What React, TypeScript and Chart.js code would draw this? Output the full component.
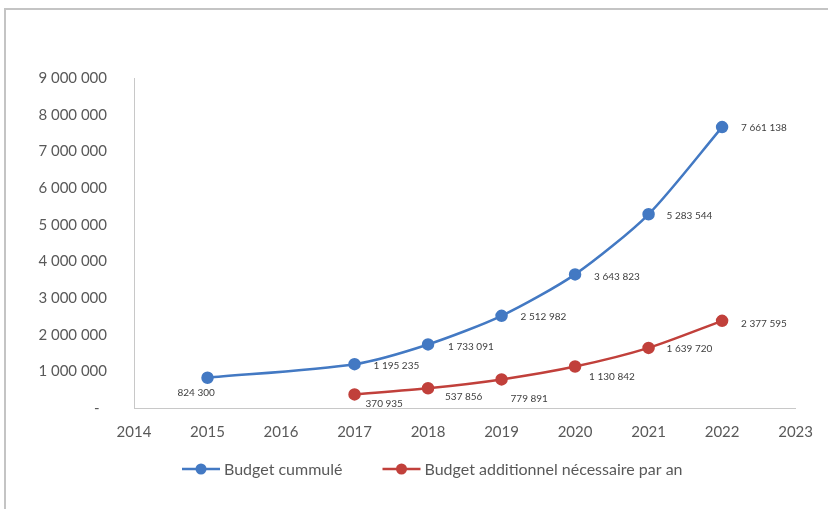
import React, { useEffect, useRef } from 'react';
import { Chart, registerables } from 'chart.js';

Chart.register(...registerables);

// ---- data ----
const seriesNames = ['Budget cummulé', 'Budget additionnel nécessaire par an'];
const cumulYears = [2015, 2017, 2018, 2019, 2020, 2021, 2022];
const cumulValues = [824300, 1195235, 1733091, 2512982, 3643823, 5283544, 7661138];
const addYears = [2017, 2018, 2019, 2020, 2021, 2022];
const addValues = [370935, 537856, 779891, 1130842, 1639720, 2377595];
const xMin = 2014;
const xMax = 2023;
const yMin = 0;
const yMax = 9000000;
const yStep = 1000000;

const BLUE = '#4379c3';
const RED = '#c1403b';
const FONT = 'Lato, "Open Sans", sans-serif';

const fmt = (v: number) => String(Math.round(v)).replace(/\B(?=(\d{3})+(?!\d))/g, ' ');

// label placement relative to each point (dx, dy)
const labelOffsets: number[][][] = [
  [[-30, 15], [19, 2], [20, 2], [19, 1], [19, 2], [18, 2], [19, 1]],
  [[11, 9], [17, 9], [9, 19], [14, 10], [18, 1], [19, 3]],
];

const dataLabelPlugin = {
  id: 'dataLabels',
  afterDatasetsDraw(chart: any) {
    const ctx = chart.ctx;
    ctx.save();
    ctx.font = `10px ${FONT}`;
    ctx.fillStyle = '#404040';
    ctx.textAlign = 'left';
    ctx.textBaseline = 'middle';
    chart.data.datasets.forEach((ds: any, di: number) => {
      const meta = chart.getDatasetMeta(di);
      meta.data.forEach((pt: any, i: number) => {
        const off = labelOffsets[di][i] || [15, 0];
        ctx.fillText(fmt(ds.data[i].y), pt.x + off[0], pt.y + off[1]);
      });
    });
    ctx.restore();
  },
};

const legendPlugin = {
  id: 'customLegend',
  afterDraw(chart: any) {
    const ctx = chart.ctx;
    const y = chart.chartArea.bottom + 61;
    let x = 182;
    ctx.save();
    ctx.font = `16px ${FONT}`;
    ctx.textBaseline = 'middle';
    ctx.textAlign = 'left';
    chart.data.datasets.forEach((ds: any) => {
      const color = ds.borderColor;
      ctx.strokeStyle = color;
      ctx.lineWidth = 2.5;
      ctx.beginPath();
      ctx.moveTo(x, y);
      ctx.lineTo(x + 38, y);
      ctx.stroke();
      ctx.fillStyle = color;
      ctx.beginPath();
      ctx.arc(x + 19, y, 5.5, 0, Math.PI * 2);
      ctx.fill();
      ctx.fillStyle = '#595959';
      ctx.fillText(ds.label, x + 42, y + 1);
      x += 42 + ctx.measureText(ds.label).width + 40;
    });
    ctx.restore();
  },
};

export default function App() {
  const canvasRef = useRef<HTMLCanvasElement | null>(null);

  useEffect(() => {
    let chart: Chart | null = null;
    let cancelled = false;
    const build = () => {
      if (cancelled || !canvasRef.current) return;
      chart = new Chart(canvasRef.current, {
        type: 'line',
        data: {
          datasets: [
            {
              label: seriesNames[0],
              data: cumulYears.map((x, i) => ({ x, y: cumulValues[i] })),
              borderColor: BLUE,
              backgroundColor: BLUE,
              pointBackgroundColor: BLUE,
              pointBorderColor: BLUE,
              pointRadius: 5,
              borderWidth: 2.5,
              tension: 0.25,
            },
            {
              label: seriesNames[1],
              data: addYears.map((x, i) => ({ x, y: addValues[i] })),
              borderColor: RED,
              backgroundColor: RED,
              pointBackgroundColor: RED,
              pointBorderColor: RED,
              pointRadius: 5,
              borderWidth: 2.5,
              tension: 0.25,
            },
          ],
        },
        options: {
          animation: false,
          responsive: false,
          maintainAspectRatio: false,
          layout: { padding: { left: 0, right: 28, top: 78, bottom: 0 } },
          plugins: {
            legend: { display: false },
            tooltip: { enabled: false },
          },
          scales: {
            x: {
              type: 'linear',
              min: xMin,
              max: xMax,
              grid: { display: false, drawTicks: false },
              border: { display: true, color: '#c8c8c8', width: 1 },
              ticks: {
                stepSize: 1,
                padding: 15,
                color: '#595959',
                font: { family: FONT, size: 15 },
                callback: (v: any) => String(v),
              },
              afterFit: (s: any) => {
                s.height = 101;
              },
            },
            y: {
              min: yMin,
              max: yMax,
              grid: { display: false, drawTicks: false },
              border: { display: true, color: '#c8c8c8', width: 1 },
              ticks: {
                stepSize: yStep,
                padding: 27,
                color: '#595959',
                font: { family: FONT, size: 15 },
                callback: (v: any) => (Number(v) === 0 ? '-\u2002' : fmt(Number(v))),
              },
              afterFit: (s: any) => {
                s.width = 134;
              },
            },
          },
        },
        plugins: [dataLabelPlugin, legendPlugin],
      } as any);
    };
    const fonts: any = (document as any).fonts;
    if (fonts && fonts.load) {
      Promise.all([fonts.load(`16px Lato`), fonts.load(`10px Lato`)])
        .catch(() => null)
        .then(build);
    } else {
      build();
    }
    return () => {
      cancelled = true;
      if (chart) chart.destroy();
    };
  }, []);

  return (
    <div
      style={{
        position: 'fixed',
        left: 0,
        top: 0,
        width: 828,
        height: 509,
        overflow: 'hidden',
        background: '#ffffff',
      }}
    >
      <div
        style={{
          position: 'absolute',
          left: 4,
          top: 8,
          width: 900,
          height: 600,
          border: '2px solid #c4c4c4',
          boxSizing: 'border-box',
        }}
      />
      <canvas
        ref={canvasRef}
        width={828}
        height={509}
        style={{ position: 'absolute', left: 0, top: 0, width: 828, height: 509 }}
      />
    </div>
  );
}
